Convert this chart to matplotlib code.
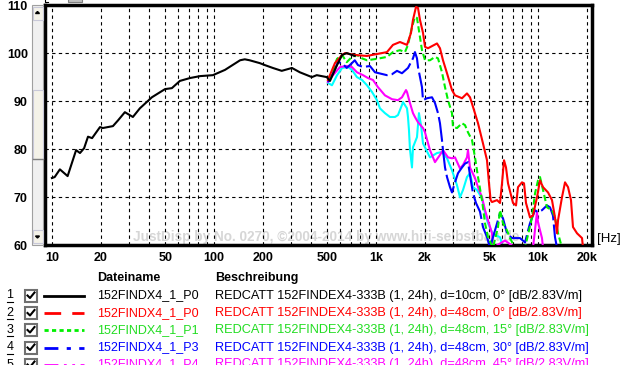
import matplotlib
matplotlib.use("Agg")
import matplotlib.pyplot as plt
from matplotlib.patches import Rectangle
from matplotlib.lines import Line2D

plt.rcParams['font.family'] = ['Liberation Sans', 'DejaVu Sans']

# ---------------- data ----------------
f_p0_near = [10, 10.4, 11.2, 12.5, 14.1, 14.9, 15.8, 16.7, 17.7, 19.8, 20.6, 23.8, 25.6, 28.2,
             31.6, 34.9, 41.4, 49.9, 55.0, 61.6, 71.1, 82.0, 98.5, 117, 145, 155, 166, 192,
             206, 231, 262, 303, 339, 402, 431, 497, 520, 575, 618, 660, 710, 740]
db_p0_near = [74.0, 74.2, 75.8, 74.4, 79.8, 79.2, 80.2, 82.6, 82.3, 84.6, 84.4, 84.8, 86.0, 87.7,
              86.7, 88.5, 90.8, 92.5, 92.7, 94.2, 94.8, 95.2, 95.4, 96.5, 98.5, 98.7, 98.5, 97.9,
              97.5, 96.9, 96.3, 96.9, 96.0, 95.0, 95.4, 95.0, 94.2, 97.5, 99.6, 100.0, 99.6, 99.4]

f_p0 = [505, 558, 618, 644, 740, 880, 1014, 1169, 1273, 1406, 1554, 1645, 1692, 1766, 1817,
        1869, 1951, 2007, 2094, 2380, 2483, 2592, 2744, 2945, 3074, 3396, 3645, 3804, 3971,
        4263, 4576, 4844, 4983, 5100, 5202, 5584, 5828, 5996, 6169, 6346, 6529, 7010, 7316,
        7526, 7966, 8196, 8432, 8925, 9314, 9858, 10290, 10740, 11530, 12200, 12730, 13100,
        13290, 14060, 14680, 15320, 15980, 16440, 17410, 18690, 18960]
db_p0 = [94.4, 97.9, 99.6, 100.0, 99.6, 99.4, 99.8, 100.2, 101.7, 102.3, 101.7, 104.2, 106.9,
         109.6, 109.4, 106.9, 104.2, 101.3, 101.0, 102.0, 101.0, 98.5, 95.8, 92.3, 91.2, 90.6,
         91.6, 90.8, 88.8, 85.4, 81.2, 77.7, 72.9, 69.4, 69.0, 69.4, 68.8, 72.9, 77.7, 76.2,
         72.9, 68.8, 68.3, 72.1, 73.1, 72.9, 68.8, 65.8, 66.2, 70.0, 73.5, 72.1, 71.0, 69.4,
         65.8, 62.5, 65.2, 70.0, 73.1, 72.1, 69.4, 63.8, 62.5, 61.5, 59.5]

f_p1 = [505, 543, 575, 618, 660, 710, 763, 820, 880, 1014, 1169, 1273, 1406, 1510, 1576, 1668,
        1740, 1791, 1869, 1923, 2007, 2154, 2313, 2414, 2555, 2667, 2783, 2945, 2987, 3162,
        3396, 3544, 3698, 3914, 4084, 4202, 4263, 4512, 4709, 4913, 5275, 5664, 5828, 6081,
        6436, 6716, 7211, 8316, 9183, 9584, 10000, 10290, 10740, 11360, 12200, 12730, 13290,
        14060]
db_p1 = [94.4, 96.5, 98.8, 99.6, 98.1, 99.2, 99.6, 98.9, 98.5, 98.8, 99.2, 100.2, 100.6, 100.2,
         101.7, 105.4, 107.5, 107.3, 103.3, 100.6, 98.5, 98.5, 99.2, 98.9, 96.0, 92.9, 90.2,
         87.5, 84.6, 84.4, 85.4, 85.0, 83.5, 81.9, 78.3, 75.6, 74.2, 69.4, 64.6, 61.7, 59.5,
         63.8, 67.3, 64.6, 63.1, 61.5, 59.5, 59.5, 65.8, 70.8, 73.5, 74.2, 71.5, 67.9, 67.3,
         65.8, 62.5, 59.5]

f_p3 = [505, 543, 583, 618, 660, 710, 740, 774, 832, 918, 986, 1169, 1256, 1348, 1447, 1576,
        1692, 1740, 1791, 1817, 1923, 1951, 2065, 2217, 2313, 2414, 2483, 2555, 2592, 2667,
        2744, 2863, 2945, 3074, 3208, 3396, 3544, 3698, 3804, 3971, 4143, 4385, 4576, 4844,
        5052, 5828, 6081, 6436, 6910, 7743, 8316, 8925, 9584, 10000, 10580, 11360, 11860,
        12370, 12730, 13100]
db_p3 = [94.0, 95.8, 98.1, 97.9, 96.9, 97.9, 98.5, 97.5, 97.1, 97.3, 96.0, 95.4, 95.6, 96.3,
         95.8, 96.9, 98.9, 100.2, 98.9, 97.1, 92.9, 90.2, 90.6, 90.8, 89.6, 87.5, 85.4, 81.9,
         79.8, 76.2, 74.2, 72.1, 71.0, 73.1, 75.0, 76.2, 77.0, 77.3, 74.6, 70.8, 68.8, 67.0,
         63.8, 61.7, 59.5, 66.7, 65.6, 62.5, 61.5, 61.5, 60.6, 64.6, 67.3, 66.9, 67.3, 68.3,
         67.9, 66.2, 61.7, 59.5]

f_p4 = [505, 543, 600, 660, 710, 763, 832, 893, 958, 1029, 1136, 1256, 1367, 1447, 1532, 1554,
        1621, 1692, 1740, 1817, 1951, 2007, 2154, 2313, 2483, 2592, 2783, 2945, 3074, 3300,
        3444, 3645, 3698, 3804, 4084, 4263, 4512, 4709, 4913, 5202, 5275, 6256, 7211, 9314,
        9858, 10000, 10580, 10740]
db_p4 = [94.0, 95.4, 97.1, 97.3, 97.1, 96.0, 95.4, 94.8, 94.4, 92.9, 91.2, 90.4, 90.2, 90.8,
         92.3, 91.9, 89.6, 87.5, 86.7, 85.6, 84.4, 83.5, 79.8, 77.3, 78.8, 79.8, 78.3, 78.1,
         78.3, 76.0, 76.7, 78.3, 79.8, 76.2, 74.0, 72.1, 70.0, 67.3, 65.2, 62.5, 59.5, 61.0,
         59.5, 59.5, 66.9, 64.8, 61.5, 59.5]

f_p6 = [505, 535, 575, 618, 672, 710, 763, 820, 880, 945, 1014, 1058, 1136, 1220, 1310, 1367,
        1447, 1468, 1554, 1576, 1598, 1621, 1668, 1692, 1791, 1842, 1896, 1951, 2154, 2380,
        2555, 2744, 2945, 3162, 3300, 3444, 3645, 3804, 3971, 4202, 4512, 4709, 4913, 5202,
        5429, 5828, 6081]
db_p6 = [93.8, 93.3, 95.4, 96.9, 97.1, 96.5, 95.0, 94.4, 93.3, 91.9, 90.2, 88.5, 87.5, 86.7,
         86.7, 87.1, 89.2, 89.8, 88.5, 86.7, 84.0, 80.0, 76.2, 80.4, 82.5, 87.5, 85.0, 81.2,
         78.3, 79.2, 79.4, 78.1, 75.6, 72.5, 70.0, 71.5, 74.2, 75.0, 72.1, 71.5, 69.8, 66.7,
         64.6, 62.7, 62.1, 61.7, 59.5]

x_ticks = [10, 20, 30, 40, 50, 60, 70, 80, 90, 100, 200, 300, 400, 500, 600, 700, 800, 900,
           1000, 2000, 3000, 4000, 5000, 6000, 7000, 8000, 9000, 10000, 20000]
x_labels = ['10', '20', '', '', '50', '', '', '', '', '100', '200', '', '', '500', '', '', '',
            '', '1k', '2k', '', '', '5k', '', '', '', '', '10k', '20k']
y_ticks = [60, 70, 80, 90, 100, 110]

files = ['152FINDX4_1_P0', '152FINDX4_1_P0', '152FINDX4_1_P1', '152FINDX4_1_P3',
         '152FINDX4_1_P4']
descs = ['REDCATT 152FINDEX4-333B (1, 24h), d=10cm, 0° [dB/2.83V/m]',
         'REDCATT 152FINDEX4-333B (1, 24h), d=48cm, 0° [dB/2.83V/m]',
         'REDCATT 152FINDEX4-333B (1, 24h), d=48cm, 15° [dB/2.83V/m]',
         'REDCATT 152FINDEX4-333B (1, 24h), d=48cm, 30° [dB/2.83V/m]',
         'REDCATT 152FINDEX4-333B (1, 24h), d=48cm, 45° [dB/2.83V/m]']

# ---------------- figure ----------------
W, H = 624, 365
fig = plt.figure(figsize=(W / 100, H / 100), dpi=100)
fig.patch.set_facecolor('white')

L, R, T, B = 44.5, 592, 5, 245.3
ax = fig.add_axes([L / W, 1 - B / H, (R - L) / W, (B - T) / H])
ax.set_xscale('log')
ax.set_xlim(9.0, 21540)
ax.set_ylim(60, 110)

ax.set_xticks(x_ticks)
ax.set_xticklabels(x_labels)
ax.xaxis.set_minor_locator(matplotlib.ticker.NullLocator())
ax.set_yticks(y_ticks)
ax.set_yticklabels([str(v) for v in y_ticks])
ax.tick_params(axis='both', length=0, labelsize=9)
ax.tick_params(axis='x', pad=5)
ax.tick_params(axis='y', pad=12)
for lab in ax.get_xticklabels() + ax.get_yticklabels():
    lab.set_fontweight('bold')

ax.grid(True, which='major', color='black', linestyle=(0, (3, 3)), linewidth=0.8)
for sp in ax.spines.values():
    sp.set_linewidth(2.5)
    sp.set_color('black')

lw = 1.5
ax.plot(f_p0_near, db_p0_near, color='black', lw=lw, zorder=7)
ax.plot(f_p0, db_p0, color='#FF0000', lw=lw, zorder=6)
ax.plot(f_p1, db_p1, color='#00F000', lw=lw, linestyle=(0, (3, 1.5)), zorder=5)
ax.plot(f_p3, db_p3, color='#0000FF', lw=lw, linestyle=(0, (12, 2)), zorder=4)
ax.plot(f_p4, db_p4, color='#FF00FF', lw=lw, zorder=3)
ax.plot(f_p6, db_p6, color='#00FFFF', lw=lw, zorder=2)

ax.text(0.162, 0.035, 'JustDisp by No. 0270, ©2004-2014 by www.hifi-selbstbau.de',
        transform=ax.transAxes, fontsize=9.8, fontweight='bold', color='#D6D6D6',
        va='center', ha='left', zorder=1)

# ---------------- overlay (pixel coords) ----------------
ov = fig.add_axes([0, 0, 1, 1], zorder=10)
ov.set_xlim(0, W)
ov.set_ylim(H, 0)
ov.axis('off')

# scrollbar
ov.add_patch(Rectangle((32, 5), 11, 240, facecolor='#F0F0F0', edgecolor='#A0A0A0', lw=0.8))
ov.add_patch(Rectangle((32.5, 90), 10, 69, facecolor='#F4F2E8', edgecolor='#C8C8D8', lw=0.8))
ov.plot([32.5, 42.5], [159, 159], color='#808080', lw=1)
ov.add_patch(Rectangle((32.5, 7), 10, 13, facecolor='#F4F2E8', edgecolor='#C8C8D8', lw=0.8))
ov.add_patch(Rectangle((32.5, 230), 10, 13, facecolor='#F4F2E8', edgecolor='#C8C8D8', lw=0.8))
ov.fill([35.5, 39.5, 37.5], [13.5, 13.5, 11.5], color='black')
ov.fill([35.5, 39.5, 37.5], [236, 236, 238], color='black')

# top-left widget remnant
ov.add_patch(Rectangle((68, -2), 14, 4, facecolor='#C0C0C0', edgecolor='#808080', lw=0.8))
ov.plot([45, 45, 48], [0, 2, 2], color='black', lw=0.8)

ov.text(597, 239, '[Hz]', fontsize=9.5, va='center', ha='left', color='black')

# legend
ov.text(97, 278, 'Dateiname', fontsize=9, fontweight='bold', va='center', ha='left')
ov.text(215, 278, 'Beschreibung', fontsize=9, fontweight='bold', va='center', ha='left')

row_y = [295.5, 313, 330, 347.5, 364.5]
txt_colors = ['black', '#FF0000', '#22DD22', '#0000FF', '#FF00FF']
line_colors = ['black', '#FF0000', '#00F000', '#0000FF', '#FF00FF']
line_styles = ['-', (0, (6, 4)), (0, (1.5, 1.2)), (0, (5, 3, 1.5, 3)), (0, (5, 2, 1, 2, 1, 2))]
for i, y in enumerate(row_y):
    ov.text(10, y, str(i + 1), fontsize=9, va='center', ha='center', color='black')
    ov.plot([7, 13], [y + 6, y + 6], color='black', lw=0.8)
    ov.add_patch(Rectangle((25, y - 6), 12, 12, facecolor='white', edgecolor='#707070', lw=1.5))
    ov.plot([27.5, 30, 34.5], [y, y + 2.5, y - 3], color='black', lw=1.5)
    ov.add_line(Line2D([44, 84], [y, y], color=line_colors[i], lw=2, linestyle=line_styles[i]))
    ov.text(97, y, files[i], fontsize=9, va='center', ha='left', color=txt_colors[i])
    ov.text(215, y, descs[i], fontsize=9.2, va='center', ha='left', color=txt_colors[i])

fig.savefig('out.png', dpi=100)
